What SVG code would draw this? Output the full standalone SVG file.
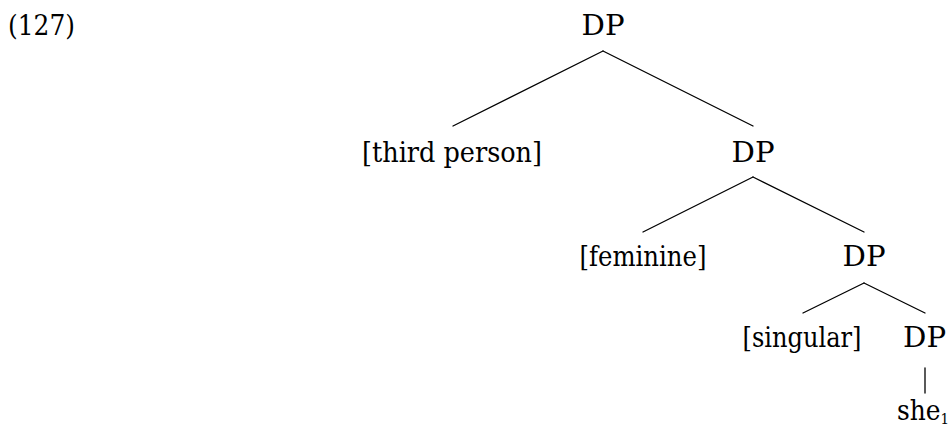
<svg xmlns="http://www.w3.org/2000/svg" width="950" height="433" viewBox="0 0 950 433">
<style>
text{font-family:'DejaVu Serif',serif;font-size:28px;fill:#000}
.m{text-anchor:middle}
.sub{font-size:15px}
line{stroke:#000;stroke-width:1.3;stroke-linecap:round}
</style>
<rect width="950" height="433" fill="#fff"/>
<text id="label" x="8" y="35" textLength="67" lengthAdjust="spacingAndGlyphs">(127)</text>
<g id="connectors">
<line x1="603" y1="51" x2="453" y2="126"/>
<line x1="603" y1="51" x2="753" y2="126"/>
<line x1="753" y1="177" x2="643" y2="232"/>
<line x1="753" y1="177" x2="864" y2="232"/>
<line x1="864" y1="283" x2="803" y2="313"/>
<line x1="864" y1="283" x2="925" y2="313"/>
<line x1="925" y1="368" x2="925" y2="393"/>
</g>
<g id="n1"><text class="m" x="603" y="35" textLength="43" lengthAdjust="spacingAndGlyphs">DP</text></g>
<g id="n2"><text class="m" x="452" y="162" textLength="180" lengthAdjust="spacingAndGlyphs">[third person]</text></g>
<g id="n3"><text class="m" x="753" y="162" textLength="43" lengthAdjust="spacingAndGlyphs">DP</text></g>
<g id="n4"><text class="m" x="643" y="266" textLength="127" lengthAdjust="spacingAndGlyphs">[feminine]</text></g>
<g id="n5"><text class="m" x="864" y="266" textLength="43" lengthAdjust="spacingAndGlyphs">DP</text></g>
<g id="n6"><text class="m" x="802" y="347" textLength="119" lengthAdjust="spacingAndGlyphs">[singular]</text></g>
<g id="n7"><text class="m" x="924.5" y="347" textLength="43" lengthAdjust="spacingAndGlyphs">DP</text></g>
<g id="n8"><text x="897" y="420" textLength="52" lengthAdjust="spacingAndGlyphs">she<tspan class="sub" dy="4">1</tspan></text></g>
</svg>
